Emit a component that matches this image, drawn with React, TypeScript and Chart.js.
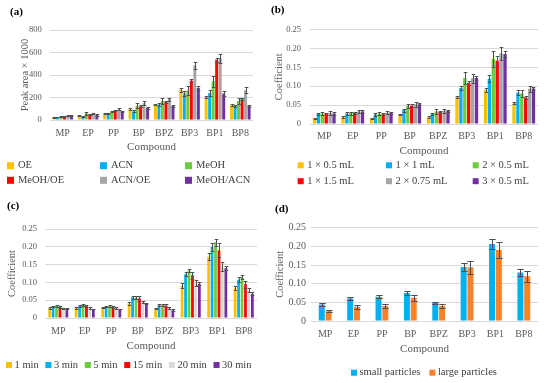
import React, { useEffect, useRef } from 'react';
import { Chart, registerables } from 'chart.js';

Chart.register(...registerables);

const FONT = "'Liberation Serif', 'Times New Roman', serif";
const TICK = '#595959';
const LEG = '#404040';
const GRID = '#d9d9d9';
const ERR = '#505050';

const compounds = ['MP', 'EP', 'PP', 'BP', 'BPZ', 'BP3', 'BP1', 'BP8'];

// (a) Peak area x 1000 by extraction solvent
const aNames = ['OE', 'ACN', 'MeOH', 'MeOH/OE', 'ACN/OE', 'MeOH/ACN'];
const aColors = ['#FFC000', '#00B0F0', '#6CCB3F', '#FF0000', '#A6A6A6', '#7030A0'];
const aOE = [25, 37, 55, 95, 138, 270, 205, 130];
const aACN = [27, 33, 55, 78, 138, 235, 240, 125];
const aMeOH = [30, 60, 75, 128, 168, 262, 345, 170];
const aMeOHOE = [35, 52, 82, 122, 160, 350, 535, 185];
const aACNOE = [42, 55, 95, 150, 185, 485, 550, 265];
const aMeOHACN = [38, 45, 78, 108, 125, 285, 235, 128];
const aErrOE = [4, 5, 5, 8, 8, 18, 12, 8];
const aErrACN = [3, 4, 5, 10, 10, 20, 25, 8];
const aErrMeOH = [4, 15, 8, 20, 25, 40, 50, 25];
const aErrMeOHOE = [4, 5, 6, 10, 10, 15, 20, 10];
const aErrACNOE = [5, 5, 8, 20, 15, 35, 40, 25];
const aErrMeOHACN = [4, 5, 6, 8, 8, 20, 20, 8];

// (b) Coefficient by elution volume
const bNames = ['1 × 0.5 mL', '1 × 1 mL', '2 × 0.5 mL', '1 × 1.5 mL', '2 × 0.75 mL', '3 × 0.5 mL'];
const bColors = ['#FFC000', '#00B0F0', '#6CCB3F', '#FF0000', '#A6A6A6', '#7030A0'];
const b1x05 = [0.015, 0.018, 0.015, 0.025, 0.018, 0.071, 0.09, 0.055];
const b1x1 = [0.027, 0.028, 0.025, 0.037, 0.027, 0.095, 0.12, 0.083];
const b2x05 = [0.027, 0.029, 0.027, 0.048, 0.033, 0.122, 0.172, 0.081];
const b1x15 = [0.027, 0.029, 0.026, 0.048, 0.032, 0.109, 0.167, 0.07];
const b2x075 = [0.03, 0.033, 0.03, 0.052, 0.035, 0.121, 0.187, 0.093];
const b3x05 = [0.028, 0.033, 0.03, 0.052, 0.035, 0.122, 0.185, 0.094];
const bErr1x05 = [0.001, 0.002, 0.002, 0.002, 0.002, 0.003, 0.005, 0.003];
const bErr1x1 = [0.003, 0.003, 0.003, 0.004, 0.003, 0.006, 0.01, 0.006];
const bErr2x05 = [0.004, 0.004, 0.004, 0.006, 0.006, 0.015, 0.02, 0.01];
const bErr1x15 = [0.002, 0.003, 0.002, 0.004, 0.003, 0.005, 0.012, 0.005];
const bErr2x075 = [0.005, 0.005, 0.004, 0.007, 0.005, 0.012, 0.018, 0.008];
const bErr3x05 = [0.003, 0.003, 0.003, 0.003, 0.003, 0.005, 0.007, 0.005];

// (c) Coefficient by extraction time
const cNames = ['1 min', '3 min', '5 min', '15 min', '20 min', '30 min'];
const cColors = ['#FFC000', '#00B0F0', '#6CCB3F', '#FF0000', '#D9D9D9', '#7030A0'];
const c1 = [0.028, 0.028, 0.029, 0.04, 0.027, 0.09, 0.172, 0.085];
const c3 = [0.032, 0.034, 0.032, 0.058, 0.036, 0.123, 0.2, 0.108];
const c5 = [0.034, 0.037, 0.034, 0.058, 0.037, 0.133, 0.213, 0.115];
const c15 = [0.031, 0.034, 0.031, 0.055, 0.035, 0.12, 0.19, 0.095];
const c20 = [0.027, 0.028, 0.028, 0.045, 0.029, 0.098, 0.145, 0.078];
const c30 = [0.026, 0.025, 0.025, 0.041, 0.022, 0.096, 0.14, 0.068];
const cErr1 = [0.002, 0.002, 0.002, 0.004, 0.002, 0.007, 0.01, 0.006];
const cErr3 = [0.002, 0.002, 0.002, 0.004, 0.002, 0.006, 0.012, 0.006];
const cErr5 = [0.002, 0.002, 0.002, 0.005, 0.002, 0.005, 0.01, 0.005];
const cErr15 = [0.003, 0.003, 0.003, 0.006, 0.003, 0.01, 0.02, 0.01];
const cErr20 = [0.001, 0.002, 0.002, 0.003, 0.003, 0.008, 0.012, 0.005];
const cErr30 = [0.001, 0.001, 0.001, 0.002, 0.002, 0.004, 0.006, 0.004];

// (d) Coefficient by particle size
const dNames = ['small particles', 'large particles'];
const dColors = ['#00B0F0', '#F8822A'];
const dSmall = [0.044, 0.06, 0.065, 0.075, 0.048, 0.145, 0.206, 0.13];
const dLarge = [0.026, 0.038, 0.04, 0.062, 0.04, 0.144, 0.19, 0.12];
const dErrSmall = [0.004, 0.004, 0.004, 0.005, 0.003, 0.01, 0.013, 0.009];
const dErrLarge = [0.003, 0.005, 0.005, 0.008, 0.005, 0.017, 0.022, 0.015];

const aTicks = { max: 800, step: 200 };
const coefTicks = { max: 0.25, step: 0.05 };

function series(names: string[], colors: string[], data: number[][], errs: number[][]) {
  return names.map((n, i) => ({ label: n, color: colors[i], data: data[i], err: errs[i] }));
}

const panels = [
  {
    tag: '(a)', left: 0, top: 0, w: 275, h: 190,
    pad: { left: 18.7, top: 30, right: 22, bottom: 36.7 }, yW: 31.3, xH: 33.3,
    ticks: aTicks, yTickSize: 8.5, yTickPad: 8.3, xTickSize: 10, xTickPad: 7.3,
    yTitle: 'Peak area × 1000', catPct: 0.83, barPct: 0.85, cap: 1.8,
    legend: { mode: 'grid', cols: [7, 100, 185], rows: [165.7, 180.3], box: 7, gap: 4, size: 10.5 },
    tagX: 10, tagY: 12.5,
    series: series(aNames, aColors, [aOE, aACN, aMeOH, aMeOHOE, aACNOE, aMeOHACN],
      [aErrOE, aErrACN, aErrMeOH, aErrMeOHOE, aErrACNOE, aErrMeOHACN]),
  },
  {
    tag: '(b)', left: 262, top: 0, w: 288, h: 190,
    pad: { left: 10.7, top: 29.5, right: 12, bottom: 32.7 }, yW: 37.3, xH: 33.3,
    ticks: coefTicks, yTickSize: 8.5, yTickPad: 9, xTickSize: 10, xTickPad: 6.7,
    yTitle: 'Coefficient', catPct: 0.82, barPct: 0.85, cap: 1.8,
    legend: { mode: 'grid', cols: [35.7, 124, 210.7], rows: [165.3, 181.2], box: 6, gap: 3.5, size: 10.5 },
    tagX: 9, tagY: 10,
    series: series(bNames, bColors, [b1x05, b1x1, b2x05, b1x15, b2x075, b3x05],
      [bErr1x05, bErr1x1, bErr2x05, bErr1x15, bErr2x075, bErr3x05]),
  },
  {
    tag: '(c)', left: 0, top: 190, w: 275, h: 193,
    pad: { left: 6.2, top: 39, right: 18, bottom: 30.7 }, yW: 38.8, xH: 34.3,
    ticks: coefTicks, yTickSize: 8.5, yTickPad: 8, xTickSize: 10, xTickPad: 7,
    yTitle: 'Coefficient', catPct: 0.78, barPct: 0.8, cap: 1.8,
    legend: { mode: 'flow', x: 6, y: 175, box: 6, gap: 2.5, itemGap: 6.7, size: 10.5 },
    tagX: 7, tagY: 16,
    series: series(cNames, cColors, [c1, c3, c5, c15, c20, c30],
      [cErr1, cErr3, cErr5, cErr15, cErr20, cErr30]),
  },
  {
    tag: '(d)', left: 262, top: 190, w: 288, h: 193,
    pad: { left: 11.7, top: 37.7, right: 12, bottom: 27.4 }, yW: 37.3, xH: 34.6,
    ticks: coefTicks, yTickSize: 10, yTickPad: 5, xTickSize: 10, xTickPad: 7,
    yTitle: 'Coefficient', catPct: 0.48, barPct: 0.88, cap: 3.2,
    legend: { mode: 'flow', x: 89, y: 182.7, box: 6, gap: 2.5, itemGap: 9, size: 10.5 },
    tagX: 13, tagY: 19,
    series: series(dNames, dColors, [dSmall, dLarge], [dErrSmall, dErrLarge]),
  },
];

const errorBarPlugin = {
  id: 'errorBars',
  afterDatasetsDraw(chart: any, _args: any, opts: any) {
    const { ctx } = chart;
    const ys = chart.scales.y;
    const c = opts.cap;
    ctx.save();
    ctx.strokeStyle = ERR;
    ctx.lineWidth = 1;
    chart.data.datasets.forEach((ds: any, i: number) => {
      const meta = chart.getDatasetMeta(i);
      meta.data.forEach((bar: any, j: number) => {
        const v = ds.data[j];
        const e = ds.errors[j];
        const x = Math.round(bar.x) + 0.5;
        const yt = Math.round(ys.getPixelForValue(v + e)) + 0.5;
        const yb = Math.round(ys.getPixelForValue(v - e)) + 0.5;
        ctx.beginPath();
        ctx.moveTo(x, yt); ctx.lineTo(x, yb);
        ctx.moveTo(x - c, yt); ctx.lineTo(x + c, yt);
        ctx.moveTo(x - c, yb); ctx.lineTo(x + c, yb);
        ctx.stroke();
      });
    });
    ctx.restore();
  },
};

const legendPlugin = {
  id: 'boxLegend',
  afterDraw(chart: any, _args: any, o: any) {
    const { ctx } = chart;
    const L = o.legend;
    ctx.save();
    ctx.font = `${L.size}px ${FONT}`;
    ctx.textBaseline = 'middle';
    ctx.textAlign = 'left';
    const ds = chart.data.datasets;
    if (L.mode === 'grid') {
      ds.forEach((d: any, i: number) => {
        const col = i % L.cols.length;
        const row = Math.floor(i / L.cols.length);
        const x = L.cols[col];
        const y = L.rows[row];
        ctx.fillStyle = d.backgroundColor;
        ctx.fillRect(x, y - L.box / 2, L.box, L.box);
        ctx.fillStyle = LEG;
        ctx.fillText(d.label, x + L.box + L.gap, y);
      });
    } else {
      let x = L.x;
      ds.forEach((d: any) => {
        ctx.fillStyle = d.backgroundColor;
        ctx.fillRect(x, L.y - L.box / 2, L.box, L.box);
        ctx.fillStyle = LEG;
        const tx = x + L.box + L.gap;
        ctx.fillText(d.label, tx, L.y);
        x = tx + ctx.measureText(d.label).width + L.itemGap;
      });
    }
    ctx.font = `bold 11px ${FONT}`;
    ctx.fillStyle = '#000';
    ctx.fillText(o.tag, o.tagX, o.tagY);
    ctx.restore();
  },
};

function Panel({ p }: { p: any }) {
  const ref = useRef<HTMLCanvasElement>(null);
  useEffect(() => {
    if (!ref.current) return;
    const chart = new Chart(ref.current, {
      type: 'bar',
      data: {
        labels: compounds,
        datasets: p.series.map((s: any) => ({
          label: s.label,
          data: s.data,
          errors: s.err,
          backgroundColor: s.color,
          borderWidth: 0,
          categoryPercentage: p.catPct,
          barPercentage: p.barPct,
        })) as any,
      },
      options: {
        animation: false,
        responsive: false,
        devicePixelRatio: 1,
        layout: { padding: p.pad },
        plugins: {
          legend: { display: false },
          tooltip: { enabled: false },
          errorBars: { cap: p.cap },
          boxLegend: { legend: p.legend, tag: p.tag, tagX: p.tagX, tagY: p.tagY },
        } as any,
        scales: {
          x: {
            grid: { display: false, drawTicks: false },
            border: { display: false },
            ticks: {
              color: TICK, font: { family: FONT, size: p.xTickSize }, padding: p.xTickPad,
              autoSkip: false, maxRotation: 0,
            },
            title: {
              display: true, text: 'Compound', color: TICK,
              font: { family: FONT, size: 11 }, padding: 0,
            },
            afterFit: (s: any) => { s.height = p.xH; },
          },
          y: {
            min: 0,
            max: p.ticks.max,
            grid: { color: GRID, drawTicks: false, lineWidth: 1 },
            border: { display: false },
            ticks: {
              stepSize: p.ticks.step, color: TICK,
              font: { family: FONT, size: p.yTickSize }, padding: p.yTickPad,
            },
            title: {
              display: true, text: p.yTitle, color: TICK,
              font: { family: FONT, size: 10.5 }, padding: 0,
            },
            afterFit: (s: any) => { s.width = p.yW; },
          },
        },
      },
      plugins: [errorBarPlugin, legendPlugin],
    });
    return () => chart.destroy();
  }, []);
  return (
    <canvas
      ref={ref}
      width={p.w}
      height={p.h}
      style={{ position: 'absolute', left: p.left, top: p.top, width: p.w, height: p.h }}
    />
  );
}

export default function App() {
  return (
    <div style={{ position: 'fixed', left: 0, top: 0, width: 550, height: 383, background: '#fff', overflow: 'hidden' }}>
      {panels.map((p) => <Panel key={p.tag} p={p} />)}
    </div>
  );
}
